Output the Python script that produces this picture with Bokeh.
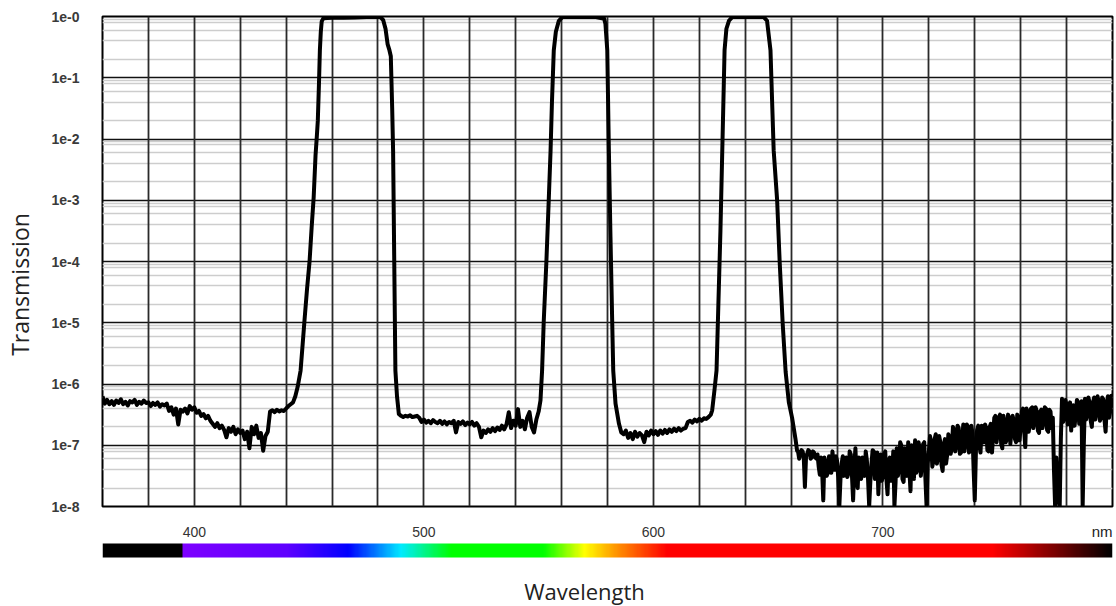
import math
import numpy as np
from bokeh.plotting import figure
from bokeh.layouts import column, row
from bokeh.models import Range1d, FixedTicker, Grid, CustomJSTickFormatter
from bokeh.core.properties import value
from bokeh.embed import file_html
from bokeh.resources import INLINE

# ---------------- data (optical density OD = -log10(T)) -------------
base1_wl = list(range(360, 446))
base1_od = [6.20, 6.32, 6.26, 6.33, 6.28, 6.34, 6.27, 6.31, 6.25, 6.33,
            6.29, 6.35, 6.28, 6.30, 6.26, 6.34, 6.29, 6.32, 6.27, 6.31,
            6.30, 6.36, 6.31, 6.34, 6.30, 6.37, 6.33, 6.35, 6.32, 6.44,
            6.38, 6.50, 6.40, 6.66, 6.42, 6.45, 6.40, 6.48, 6.36, 6.42,
            6.38, 6.47, 6.44, 6.52, 6.49, 6.56, 6.52, 6.60, 6.65, 6.70,
            6.64, 6.72, 6.68, 6.75, 6.87, 6.72, 6.78, 6.70, 6.82, 6.74,
            6.80, 6.76, 6.90, 6.78, 7.05, 6.70, 6.82, 6.68, 6.88, 6.80,
            7.09, 6.85, 6.78, 6.45, 6.43, 6.46, 6.42, 6.45, 6.43, 6.44,
            6.40, 6.36, 6.33, 6.30, 6.20, 6.05]

band1_wl = [446.3, 447.2, 448.0, 449.1, 450.2, 451.1, 452.0, 452.8, 453.4, 453.8,
            454.3, 454.7, 455.1, 455.5, 456.2, 460.0, 465.0, 470.0, 475.0, 479.0,
            481.1, 482.3, 483.3, 484.2, 485.0, 485.6, 486.2, 486.6, 487.1, 487.6,
            488.3, 489.1]
band1_od = [5.78, 5.35, 4.96, 4.45, 4.00, 3.45, 2.95, 2.27, 1.94, 1.70,
            1.10, 0.55, 0.25, 0.08, 0.03, 0.02, 0.02, 0.015, 0.01, 0.01,
            0.01, 0.06, 0.20, 0.45, 0.55, 0.65, 1.50, 2.19, 4.00, 5.78,
            6.20, 6.49]

base2_wl = list(range(490, 551))
base2_od = [6.52, 6.54, 6.52, 6.53, 6.51, 6.54, 6.53, 6.52, 6.55, 6.62,
            6.58, 6.63, 6.60, 6.64, 6.59, 6.62, 6.64, 6.60, 6.65, 6.61,
            6.66, 6.62, 6.64, 6.60, 6.79, 6.62, 6.65, 6.61, 6.67, 6.63,
            6.66, 6.62, 6.68, 6.64, 6.70, 6.87, 6.76, 6.80, 6.74, 6.78,
            6.72, 6.77, 6.71, 6.75, 6.68, 6.74, 6.66, 6.46, 6.72, 6.60,
            6.68, 6.41, 6.70, 6.60, 6.74, 6.55, 6.46, 6.70, 6.79, 6.58,
            6.45]

band2_wl = [550.8, 551.5, 552.2, 553.4, 554.4, 555.2, 555.8, 556.6, 557.5, 558.8,
            560.3, 565.0, 570.0, 575.0, 577.5, 578.4, 579.1, 579.9, 580.6, 581.3,
            582.0, 582.5, 583.5, 585.0, 586.0]
band2_od = [6.27, 5.78, 5.00, 3.98, 3.00, 2.19, 1.40, 0.55, 0.25, 0.07,
            0.01, 0.005, 0.01, 0.01, 0.03, 0.02, 0.12, 0.55, 2.19, 3.60,
            4.90, 5.78, 6.32, 6.65, 6.79]

base3_wl = list(range(587, 626))
base3_od = [6.82, 6.76, 6.88, 6.80, 6.90, 6.78, 6.86, 6.80, 6.84, 6.95,
            6.78, 6.84, 6.76, 6.82, 6.77, 6.83, 6.76, 6.81, 6.75, 6.80,
            6.74, 6.78, 6.73, 6.77, 6.72, 6.76, 6.73, 6.72, 6.62, 6.60,
            6.63, 6.58, 6.61, 6.57, 6.60, 6.56, 6.57, 6.54, 6.50]

band3_wl = [625.6, 626.6, 627.5, 628.3, 629.2, 630.0, 631.0, 631.8, 632.9, 634.3,
            640.0, 645.0, 648.1, 649.5, 651.0, 652.4, 653.9, 655.0, 656.3, 657.6,
            659.0, 660.4, 661.9, 662.6]
band3_od = [6.43, 6.10, 5.78, 4.70, 3.50, 2.19, 0.55, 0.20, 0.07, 0.01,
            0.005, 0.01, 0.01, 0.07, 0.55, 2.19, 3.00, 4.00, 5.00, 5.80,
            6.30, 6.55, 6.90, 7.09]

# noisy red/NIR blocking region: whole-nm samples and half-nm samples
base4_wl = list(range(663, 801))
base4_od = [7.10, 7.16, 7.10, 7.68, 7.14, 7.10, 7.20, 7.12, 7.22, 7.35,
            7.20, 7.90, 7.30, 7.45, 7.22, 7.10, 7.40, 7.25, 8.00, 7.30,
            7.50, 7.20, 7.45, 7.15, 7.90, 7.05, 7.70, 7.30, 7.20, 7.50,
            7.25, 8.00, 7.30, 7.10, 7.45, 7.80, 7.15, 7.50, 7.10, 7.80,
            7.20, 7.45, 8.00, 7.05, 7.40, 7.00, 7.60, 7.20, 6.95, 7.75,
            7.10, 6.92, 7.40, 7.05, 7.30, 6.95, 8.00, 7.10, 6.95, 7.25,
            6.82, 7.20, 6.95, 7.42, 6.90, 7.15, 6.88, 7.05, 6.75, 7.00,
            6.72, 7.12, 6.66, 6.95, 6.70, 7.05, 6.80, 7.90, 6.75, 7.00,
            6.68, 6.95, 6.72, 7.10, 6.65, 6.85, 6.52, 6.80, 6.50, 7.05,
            6.62, 6.90, 6.55, 6.75, 6.60, 6.95, 6.55, 6.70, 6.40, 7.03,
            6.45, 6.65, 6.38, 6.60, 6.45, 6.80, 6.42, 6.60, 6.40, 6.78,
            6.45, 6.55, 8.00, 7.60, 8.00, 6.24, 6.55, 6.35, 6.62, 6.76,
            6.35, 6.50, 6.30, 6.60, 8.00, 6.24, 6.50, 6.30, 6.70, 6.22,
            6.45, 6.30, 6.55, 6.25, 6.78, 6.20, 6.45, 6.27]
base4_half_wl = [w + 0.5 for w in range(663, 800)]
base4_half_od = [7.22, 7.08, 7.20, 7.18, 7.08, 7.22, 7.10, 7.20, 7.15, 7.48,
                 7.42, 7.20, 7.50, 7.18, 7.45, 7.30, 7.18, 7.52, 7.55, 7.18,
                 7.28, 7.52, 7.10, 7.50, 7.35, 7.50, 7.20, 7.55, 7.40, 7.10,
                 7.55, 7.60, 7.08, 7.55, 7.12, 7.30, 7.58, 7.15, 7.55, 7.25,
                 7.58, 7.10, 7.60, 7.50, 6.95, 7.55, 7.05, 7.50, 7.40, 7.00,
                 7.55, 7.45, 6.95, 7.50, 6.98, 7.55, 7.30, 6.85, 7.35, 6.90,
                 7.30, 6.85, 7.32, 7.00, 7.30, 6.82, 7.14, 6.70, 7.10, 6.68,
                 7.14, 6.90, 7.10, 6.66, 7.12, 6.68, 7.40, 7.10, 6.68, 7.12,
                 6.95, 6.66, 7.08, 6.70, 7.12, 6.55, 6.95, 6.55, 6.98, 6.52,
                 6.95, 6.50, 6.98, 6.52, 6.90, 6.50, 6.92, 6.45, 6.75, 6.40,
                 6.78, 6.40, 6.72, 6.38, 6.76, 6.45, 6.72, 6.38, 6.75, 6.42,
                 6.72, 7.40, 7.20, 7.90, 6.90, 6.62, 6.26, 6.66, 6.30, 6.40,
                 6.68, 6.26, 6.65, 6.28, 7.00, 6.58, 6.22, 6.60, 6.30, 6.58,
                 6.20, 6.60, 6.22, 6.58, 6.35, 6.55, 6.19]

decade_ticks = [1e-8, 1e-7, 1e-6, 1e-5, 1e-4, 1e-3, 1e-2, 1e-1, 1.0]
minor_multipliers = [2, 4, 6, 8, 9]
x_grid_ticks = list(range(360, 801, 20))
x_label_ticks = [400, 500, 600, 700]
x_tick_labels = ["400", "500", "600", "700"]
unit_label = "nm"
y_title = "Transmission"
x_title = "Wavelength"

spec_nm = [360, 394.5, 395, 440, 467, 490, 512, 552, 570, 585, 606, 748, 800]
spec_r = [0, 0, 125, 95, 0, 0, 0, 0, 255, 255, 255, 255, 0]
spec_g = [0, 0, 0, 0, 0, 235, 255, 255, 255, 140, 0, 0, 0]
spec_b = [0, 0, 255, 255, 255, 255, 0, 0, 0, 0, 0, 0, 0]

# ---------------- build ----------------
pairs4 = sorted(list(zip(base4_wl, base4_od)) + list(zip(base4_half_wl, base4_half_od)))
wl4 = [a for a, _ in pairs4]
od4 = [b for _, b in pairs4]

wl = base1_wl + band1_wl + base2_wl + band2_wl + base3_wl + band3_wl + wl4
od = base1_od + band1_od + base2_od + band2_od + base3_od + band3_od + od4
trans = [10 ** (-v) for v in od]

minor_ticks = [m * d for d in decade_ticks[:-1] for m in minor_multipliers]

x_range = Range1d(360, 800)
LEFT, RIGHT = 62, 4

# ---- main chart ----
p = figure(width=1076, height=520, x_range=x_range, y_range=Range1d(1e-8, 1.0),
           y_axis_type="log", x_axis_location=None, output_backend="svg",
           toolbar_location=None, min_border_left=LEFT, min_border_right=RIGHT,
           min_border_top=16, min_border_bottom=14)
p.outline_line_color = "black"
p.outline_line_width = 2
for g in p.grid:
    g.visible = False

hgrid = Grid(dimension=1, ticker=FixedTicker(ticks=decade_ticks, minor_ticks=minor_ticks),
             grid_line_color="#111111", grid_line_width=1.6,
             minor_grid_line_color="#cdcdcd", minor_grid_line_width=1.6)
vgrid = Grid(dimension=0, ticker=FixedTicker(ticks=x_grid_ticks),
             grid_line_color="#2a2a2a", grid_line_width=1.8)
p.add_layout(hgrid)
p.add_layout(vgrid)

p.yaxis.ticker = FixedTicker(ticks=decade_ticks)
p.yaxis.formatter = CustomJSTickFormatter(code="return '1e-' + Math.round(-Math.log10(tick));")
p.yaxis.axis_line_color = None
p.yaxis.major_tick_line_color = None
p.yaxis.minor_tick_line_color = None
p.yaxis.major_label_text_font = "Liberation Sans"
p.yaxis.major_label_text_font_size = "14px"
p.yaxis.major_label_text_font_style = "bold"
p.yaxis.major_label_text_color = "#3a3a3a"
p.yaxis.major_label_standoff = 17

p.line(wl, trans, line_color="black", line_width=4.0, line_join="round")

# ---- bottom strip: tick labels, spectrum bar, x title (y in pixel units up from bottom) ----
xs = np.linspace(360, 800, 881)
n = xs.size
img = np.empty((1, n), dtype=np.uint32)
view = img.view(dtype=np.uint8).reshape((1, n, 4))
view[0, :, 0] = np.interp(xs, spec_nm, spec_r).astype(np.uint8)
view[0, :, 1] = np.interp(xs, spec_nm, spec_g).astype(np.uint8)
view[0, :, 2] = np.interp(xs, spec_nm, spec_b).astype(np.uint8)
view[0, :, 3] = 255

b = figure(width=1076, height=86, x_range=x_range, y_range=Range1d(0, 86),
           x_axis_location=None, y_axis_location=None, output_backend="svg",
           toolbar_location=None, min_border_left=LEFT, min_border_right=RIGHT,
           min_border_top=0, min_border_bottom=0)
b.outline_line_color = None
for g in b.grid:
    g.visible = False
b.image_rgba(image=[img], x=360, y=49, dw=440, dh=14)
b.text(x=x_label_ticks, y=[75] * len(x_label_ticks), text=x_tick_labels,
       text_align="center", text_baseline="middle", text_font=value("Liberation Sans"),
       text_font_size=value("14px"), text_color="#333333")
b.text(x=[800], y=[75], text=[unit_label], text_align="right", text_baseline="middle",
       text_font=value("Liberation Sans"), text_font_size=value("15px"), text_color="#222222")
b.text(x=[570], y=[16], text=[x_title], text_align="center", text_baseline="middle",
       text_font=value("Open Sans"), text_font_size=value("22px"), text_color="#222222")

# ---- left strip: y title ----
l = figure(width=40, height=606, x_range=Range1d(0, 40), y_range=Range1d(0, 606),
           x_axis_location=None, y_axis_location=None, output_backend="svg",
           toolbar_location=None, min_border_left=0, min_border_right=0,
           min_border_top=0, min_border_bottom=0)
l.outline_line_color = None
for g in l.grid:
    g.visible = False
l.text(x=[19], y=[322], text=[y_title], angle=math.pi / 2, text_align="center",
       text_baseline="middle", text_font=value("Open Sans"), text_font_size=value("23px"),
       text_color="#222222")

layout = row(l, column(p, b, spacing=0), spacing=0)
open("out.html", "w").write(file_html(layout, INLINE))
